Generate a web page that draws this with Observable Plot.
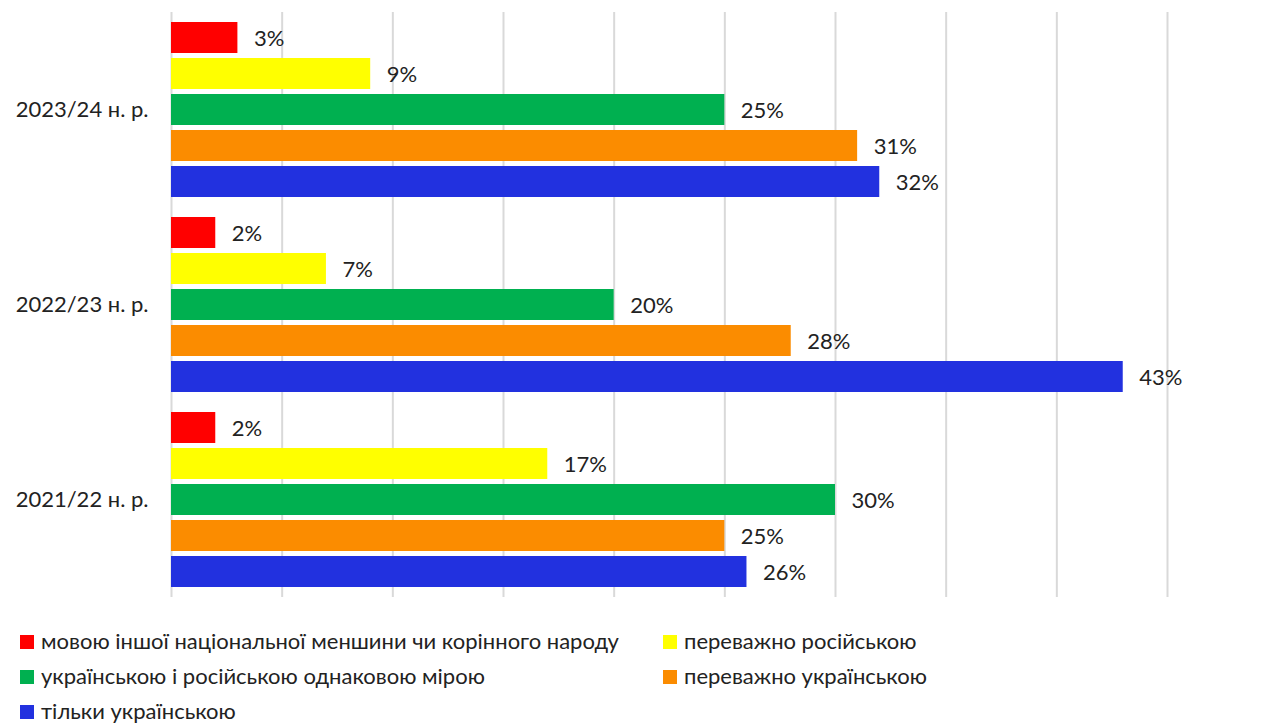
<!DOCTYPE html>
<html>
<head>
<meta charset="utf-8">
<script src="https://cdn.jsdelivr.net/npm/d3@7"></script>
<script src="https://cdn.jsdelivr.net/npm/@observablehq/plot@0.6"></script>
<style>
  body { margin: 0; background: #fff; font-family: Lato, "Open Sans", sans-serif; }
  #chart svg { display: block; }
  .legend { display: grid; grid-template-columns: 643px 600px; grid-auto-rows: 35px; padding-top: 12px; padding-left: 20px; font-family: Lato, sans-serif; font-size: 22px; line-height: 1.1; color: #222; }
  .item { display: flex; align-items: center; white-space: nowrap; }
  .sw { width: 14px; height: 14px; margin-right: 7px; flex: none; }
</style>
</head>
<body>
<div id="chart"></div>
<div class="legend" id="legend"></div>
<script>
const years = ["2023/24 н. р.", "2022/23 н. р.", "2021/22 н. р."];
const categories = [
  "мовою іншої національної меншини чи корінного народу",
  "переважно російською",
  "українською і російською однаковою мірою",
  "переважно українською",
  "тільки українською"
];
const colors = ["#ff0000", "#ffff00", "#00b050", "#fb8c00", "#2231df"];
const values2023 = [3, 9, 25, 31, 32];
const values2022 = [2, 7, 20, 28, 43];
const values2021 = [2, 17, 30, 25, 26];
const xTicks = [0, 5, 10, 15, 20, 25, 30, 35, 40, 45];

const series = [values2023, values2022, values2021];
const data = [];
years.forEach((yr, i) => categories.forEach((c, j) => data.push({year: yr, cat: c, value: series[i][j]})));

const chart = Plot.plot({
  width: 1268,
  height: 612,
  marginTop: 11,
  marginBottom: 14,
  marginLeft: 171,
  marginRight: 101,
  style: {fontFamily: "Lato, sans-serif", fontSize: "22px", color: "#222"},
  x: {domain: [0, 45], axis: null},
  y: {domain: categories, axis: null, paddingInner: 0.15, paddingOuter: 0.25},
  fy: {domain: years, padding: 0, label: null, axis: null},
  color: {domain: categories, range: colors},
  marks: [
    Plot.ruleX(xTicks, {stroke: "#d9d9d9", strokeWidth: 2}),
    Plot.barX(data, {x: "value", y: "cat", fy: "year", fill: "cat"}),
    Plot.text(data, {x: "value", y: "cat", fy: "year", text: d => d.value + "%", textAnchor: "start", dx: 16, dy: 1, fill: "#222", fontSize: 22}),
    Plot.axisFy({anchor: "left", tickSize: 0, tickPadding: 23, label: null, fontSize: 22})
  ]
});
document.getElementById("chart").appendChild(chart);

const legend = document.getElementById("legend");
categories.forEach((c, i) => {
  const it = document.createElement("div");
  it.className = "item";
  it.innerHTML = `<span class="sw" style="background:${colors[i]}"></span><span>${c}</span>`;
  legend.appendChild(it);
});
</script>
</body>
</html>
